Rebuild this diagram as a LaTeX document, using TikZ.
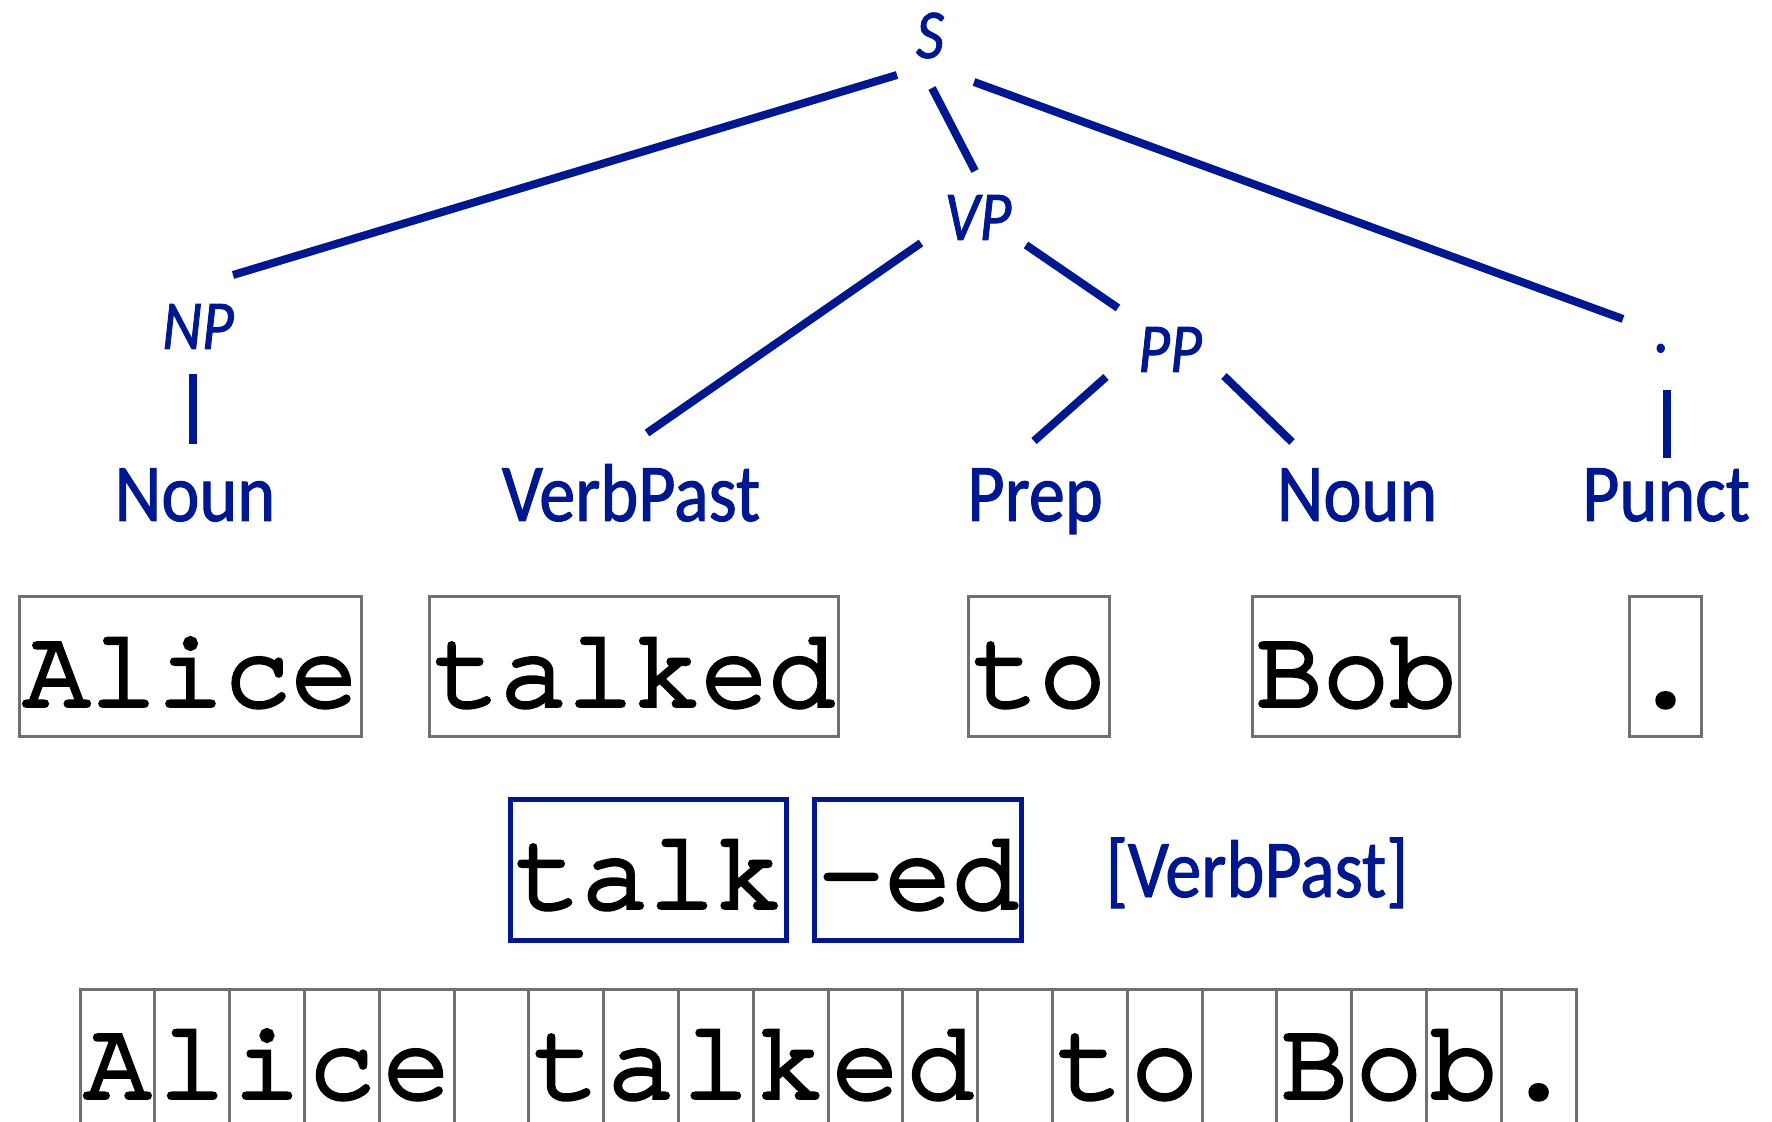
\documentclass[tikz,border=0pt]{standalone}
\usepackage{fontspec}
\usetikzlibrary{calc}
\newfontfamily\labfont[FakeStretch=0.88,FakeBold=1.2]{Carlito}
\newfontfamily\monofont[FakeBold=3.5]{TeX Gyre Cursor}
\definecolor{tblue}{RGB}{0,24,143}
\definecolor{bgray}{RGB}{112,112,112}
\tikzset{
  lab/.style={font=\labfont\fontsize{41}{45}\selectfont, text=tblue, anchor=base, inner sep=0pt},
  cat/.style={font=\labfont\itshape\fontsize{35}{40}\selectfont, text=tblue, anchor=base, inner sep=0pt},
  edge/.style={draw=tblue, line width=4pt},
  mono/.style={font=\monofont\fontsize{55.8}{60}\selectfont, inner sep=0pt, anchor=center},
  wbox/.style={mono, draw=bgray, line width=1.5pt, text height=54.5pt, text depth=15pt},
  mbox/.style={mono, draw=tblue, line width=2.5pt, text height=54.5pt, text depth=16pt},
  cbox/.style={mono, draw=bgray, line width=1.5pt, minimum width=37.4pt, text height=54.5pt, text depth=30pt}
}
\begin{document}
\begin{tikzpicture}[x=0.5pt,y=-0.5pt]
\useasboundingbox (0,0) rectangle (1772,1122);
\clip (0,0) rectangle (1772,1122);
% tree labels
\node[cat] (S) at (930,58) {S};
\node[cat] (VP) at (978,240) {VP};
\node[cat] (NP) at (198,349) {NP};
\node[cat] (PP) at (1170,372) {PP};
\node[cat] (dot) at (1662,352) {.};
\node[lab] (noun1) at (195,521) {Noun};
\node[lab] (verbpast) at (631,521) {VerbPast};
\node[lab] (prep) at (1035,521) {Prep};
\node[lab] (noun2) at (1357,521) {Noun};
\node[lab] (punct) at (1666,521) {Punct};
% tree edges
\draw[edge] ($(S.base)+(-33,17)$) -- ($(NP.base)+(35,-74)$);
\draw[edge] ($(S.base)+(2,30)$) -- ($(VP.base)+(-3,-69)$);
\draw[edge] ($(S.base)+(44,24)$) -- ($(dot.base)+(-39,-33)$);
\draw[edge] ($(VP.base)+(-57,3)$) -- ($(verbpast.base)+(16,-88)$);
\draw[edge] ($(VP.base)+(48,5)$) -- ($(PP.base)+(-52,-64)$);
\draw[edge] ($(PP.base)+(-64,5)$) -- ($(prep.base)+(-1,-80)$);
\draw[edge] ($(PP.base)+(54,4)$) -- ($(noun2.base)+(-65,-79)$);
\draw[edge] ($(NP.base)+(-5,25)$) -- ($(noun1.base)+(-2,-77)$);
\draw[edge] ($(dot.base)+(5,38)$) -- ($(punct.base)+(1,-63)$);
% word boxes
\node[wbox, minimum width=171pt] (wAlice) at (190.5,666.5) {Alice};
\node[wbox, minimum width=204.5pt] (wtalked) at (634,666.5) {talked};
\node[wbox, minimum width=70.5pt] (wto) at (1039,666.5) {to};
\node[wbox, minimum width=103.5pt] (wBob) at (1356,666.5) {Bob};
\node[wbox, minimum width=36pt] (wdot) at (1665.5,666.5) {.};
% morphemes
\node[mbox, minimum width=138pt] (mtalk) at (648.5,869.5) {talk};
\node[mbox, minimum width=103.5pt] (med) at (918,869.5) {-ed};
\node[lab] (tag) at (1257,897) {[VerbPast]};
% characters
\foreach \ch [count=\i from 0] in {A,l,i,c,e,{},t,a,l,k,e,d,{},t,o,{},B,o,b,{.}} {
  \node[cbox] (c\i) at ({117.4+74.8*\i},1073.5) {\ch};
}
\end{tikzpicture}
\end{document}
